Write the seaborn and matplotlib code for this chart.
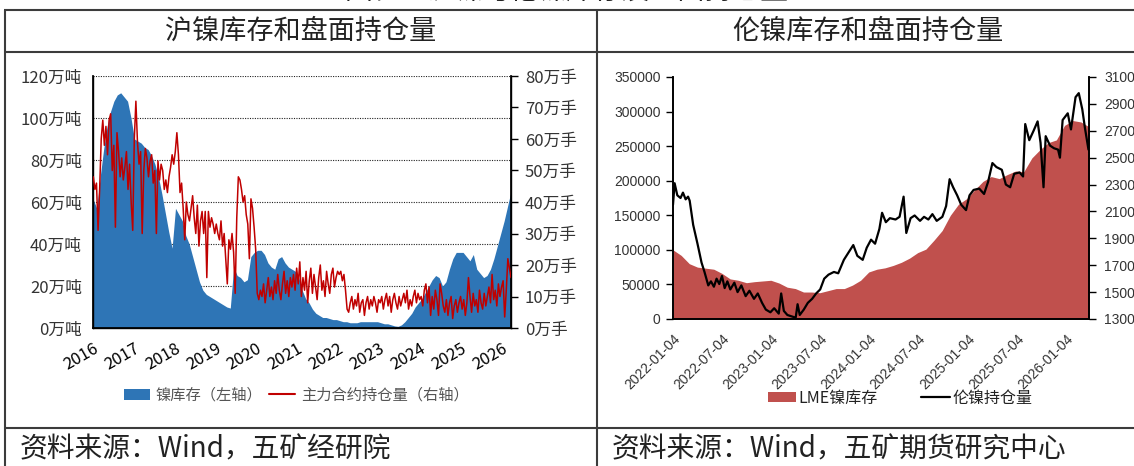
import numpy as np
import pandas as pd
import matplotlib
matplotlib.use('Agg')
import matplotlib.pyplot as plt
import seaborn as sns
from matplotlib.lines import Line2D
from matplotlib.patches import Patch

sns.set_theme(style='white')
plt.rcParams['font.family'] = ['Noto Sans CJK SC', 'DejaVu Sans']
plt.rcParams['axes.unicode_minus'] = False

# ---------------- data: left chart (SHFE) ----------------
shfe_years = [str(y) for y in range(2016, 2027)]
# SHFE nickel inventory, 万吨 (about monthly, 2016-01 .. 2026-03)
shfe_stock = [
    61, 57, 72, 85, 96, 103, 108, 111, 112, 110, 108, 100,
    90, 89, 88, 86, 85, 82, 78, 72, 64, 55, 46, 38,
    57, 54, 51, 44, 40, 34, 28, 22, 18, 16, 15, 14,
    13, 12, 11, 10, 9.5, 29, 25, 24, 22, 23, 34, 36,
    37, 37, 35, 31, 29, 28, 33, 34, 31, 29, 28, 27,
    24, 18, 14, 12, 9, 7, 6, 5, 5, 4.5, 4, 4,
    3.5, 3, 3, 2.5, 2.5, 2.5, 3, 3, 3, 3, 3, 3,
    2.5, 2, 2, 1.5, 1, 0.8, 1.5, 3, 5, 7, 10, 12,
    14, 17, 20, 23, 25, 24, 20, 22, 28, 33, 36, 36,
    36, 34, 32, 35, 28, 26, 24, 25, 28, 33, 39, 45,
    51, 58, 65,
]
# SHFE main contract open interest, 万手 (about every two weeks)
shfe_oi = [
    48, 44, 46, 31, 44, 60, 66, 58, 64, 55, 66, 68, 50, 58, 32, 62, 56, 48, 54, 47, 51, 56, 44, 52, 40, 31,
    60, 72, 59, 52, 56, 30, 50, 57, 54, 48, 53, 55, 46, 50, 30, 53, 47, 52, 50, 44, 47, 43, 48, 51, 55, 52,
    56, 62, 55, 43, 46, 38, 28, 40, 36, 34, 38, 42, 35, 30, 39, 26, 34, 37, 30, 37, 16, 37, 32, 35, 33, 30,
    33, 30, 28, 34, 26, 30, 22, 14, 28, 25, 30, 24, 11, 35, 48, 47, 44, 40, 42, 36, 33, 22, 41, 38, 32, 25,
    11, 9, 12, 10, 14, 8, 12, 16, 10, 13, 9, 15, 11, 17, 12, 9, 14, 18, 11, 15, 10, 16, 13, 17, 12, 19,
    14, 21, 10, 16, 12, 18, 8, 15, 19, 11, 17, 13, 9, 16, 20, 12, 15, 10, 18, 14, 11, 17, 19, 13, 16, 18,
    17, 18, 15, 17, 12, 6, 5, 8, 10, 6, 9, 7, 11, 5, 8, 9, 4, 8, 10, 6, 9, 7, 10, 8, 5, 9,
    8, 10, 6, 9, 11, 7, 10, 5, 9, 11, 8, 6, 10, 7, 9, 11, 8, 12, 6, 9, 7, 10, 12, 8, 11, 9,
    10, 7, 12, 14, 8, 13, 4, 10, 6, 12, 9, 4, 14, 11, 7, 5, 9, 4, 8, 10, 3, 7, 9, 5, 8, 10,
    6, 9, 4, 8, 16, 10, 5, 11, 7, 9, 5, 12, 8, 6, 11, 7, 10, 13, 8, 17, 9, 12, 7, 14, 10, 13,
    15, 3.5, 12, 22, 19, 16,
]
shfe_yticks = [0, 20, 40, 60, 80, 100, 120]
shfe_oi_ticks = [0, 10, 20, 30, 40, 50, 60, 70, 80]

# ---------------- data: right chart (LME) ----------------
lme_xticks = ['2022-01-04', '2022-07-04', '2023-01-04', '2023-07-04', '2024-01-04',
              '2024-07-04', '2025-01-04', '2025-07-04', '2026-01-04']
# LME nickel stock, tonnes (about monthly, 2022-01 .. 2026-04)
lme_stock = [
    100000, 92000, 80000, 75000, 73500, 72000, 66000, 58000, 56000, 52500, 54000, 55000,
    56000, 52000, 46000, 44000, 39000, 39000, 38000, 41000, 44000, 44000, 49000, 56000,
    68000, 72000, 74000, 77500, 82000, 88000, 96000, 101000, 114000, 128000, 150000, 166000,
    174000, 187000, 199000, 206000, 203000, 209000, 214000, 213000, 233000, 245000, 255000, 259000,
    280000, 287000, 285000, 278000,
]
lme_oi_dates = [
    '2022-01-04', '2022-01-10', '2022-01-20', '2022-02-01', '2022-02-10', '2022-02-20', '2022-03-01',
    '2022-03-07', '2022-03-20', '2022-04-05', '2022-04-20', '2022-05-01', '2022-05-15', '2022-05-25',
    '2022-06-05', '2022-06-15', '2022-06-25', '2022-07-05', '2022-07-15', '2022-07-25', '2022-08-05',
    '2022-08-20', '2022-09-01', '2022-09-15', '2022-10-01', '2022-10-15', '2022-11-01', '2022-11-15',
    '2022-12-01', '2022-12-15', '2023-01-01', '2023-01-15', '2023-02-01', '2023-02-10', '2023-02-20',
    '2023-03-05', '2023-03-20', '2023-04-05', '2023-04-12', '2023-04-20', '2023-05-05', '2023-05-20',
    '2023-06-05', '2023-06-20', '2023-07-05', '2023-07-20', '2023-08-05', '2023-08-25', '2023-09-10',
    '2023-10-01', '2023-10-20', '2023-11-05', '2023-11-20', '2023-12-10', '2023-12-25', '2024-01-10',
    '2024-01-25', '2024-02-10', '2024-02-20', '2024-03-05', '2024-03-20', '2024-04-10', '2024-04-25',
    '2024-05-10', '2024-05-20', '2024-06-05', '2024-06-20', '2024-07-10', '2024-07-25', '2024-08-10',
    '2024-08-25', '2024-09-10', '2024-10-01', '2024-10-15', '2024-10-28', '2024-11-10', '2024-11-25',
    '2024-12-10', '2024-12-28', '2025-01-10', '2025-01-25', '2025-02-15', '2025-03-05', '2025-03-20',
    '2025-04-05', '2025-04-20', '2025-05-10', '2025-05-25', '2025-06-10', '2025-06-25', '2025-07-15',
    '2025-07-28', '2025-08-05', '2025-08-20', '2025-09-05', '2025-09-20', '2025-10-01', '2025-10-12',
    '2025-10-20', '2025-11-05', '2025-11-20', '2025-12-05', '2025-12-12', '2025-12-22', '2026-01-10',
    '2026-01-22', '2026-02-08', '2026-02-20', '2026-03-05', '2026-03-15', '2026-03-28',
]
lme_oi = [
    215000, 231000, 222000, 220000, 224000, 219000, 221000,
    218000, 200000, 186000, 172000, 165000, 155000, 158000,
    154000, 160000, 156000, 162000, 153000, 158000, 152000,
    157000, 150000, 155000, 147000, 151000, 145000, 149000,
    142000, 137000, 135000, 138000, 134000, 149000, 136000,
    133000, 132000, 131000, 141000, 133000, 137000, 142000,
    145000, 149000, 152000, 160000, 163000, 165000, 164000,
    174000, 180000, 185000, 177000, 174000, 183000, 189000,
    186000, 197000, 209000, 202000, 205000, 204000, 206000,
    221000, 194000, 205000, 207000, 203000, 206000, 204000,
    208000, 203000, 206000, 214000, 234000, 228000, 222000,
    215000, 211000, 222000, 226000, 227000, 223000, 232000,
    246000, 243000, 241000, 230000, 228000, 238000, 239000,
    236000, 275000, 263000, 270000, 277000, 261000, 228000,
    266000, 259000, 257000, 256000, 250000, 278000, 283000,
    271000, 295000, 298000, 286000, 272000, 256000,
]
lme_yticks = [0, 50000, 100000, 150000, 200000, 250000, 300000, 350000]
lme_oi_ticks = [130000, 150000, 170000, 190000, 210000, 230000, 250000, 270000, 290000, 310000]

# ---------------- figure ----------------
W, H = 1134, 466
fig = plt.figure(figsize=(W / 100, H / 100), dpi=100)
fig.patch.set_facecolor('white')

def fx(px):
    return px / W

def fy(py):
    return 1 - py / H

frame = dict(color='#3c3c3c', lw=1.5, transform=fig.transFigure, solid_capstyle='butt')
fig.add_artist(Line2D([fx(4), 1.0], [fy(9.5)] * 2, **frame))
fig.add_artist(Line2D([fx(4), 1.0], [fy(52)] * 2, **frame))
fig.add_artist(Line2D([fx(4), 1.0], [fy(428)] * 2, **frame))
fig.add_artist(Line2D([fx(4.5)] * 2, [0, fy(9.5)], **frame))
fig.add_artist(Line2D([fx(597)] * 2, [0, fy(9.5)], **frame))

fig.text(fx(567), fy(7), '图表：沪镍与伦镍库存及盘面持仓量', ha='center', va='bottom',
         fontsize=20, color='#222222')
fig.text(fx(301), fy(31), '沪镍库存和盘面持仓量', ha='center', va='center', fontsize=19.5,
         color='#222222')
fig.text(fx(868), fy(31), '伦镍库存和盘面持仓量', ha='center', va='center', fontsize=19.5,
         color='#222222')
fig.text(fx(20), fy(449), '资料来源：Wind，五矿经研院', ha='left', va='center', fontsize=20,
         color='#222222')
fig.text(fx(612), fy(449), '资料来源：Wind，五矿期货研究中心', ha='left', va='center',
         fontsize=20, color='#222222')

# ---- left chart ----
stock_dates = pd.date_range('2016-01-04', '2026-03-25', periods=len(shfe_stock))
oi_dates = pd.date_range('2016-01-04', '2026-03-25', periods=len(shfe_oi))

ax1 = fig.add_axes([fx(93), fy(328), fx(418), 252 / H])
ax1.fill_between(stock_dates, shfe_stock, 0, color='#2E75B6', lw=0, zorder=2)
ax1.set_xlim(pd.Timestamp('2016-01-01'), pd.Timestamp('2026-03-25'))
ax1.set_ylim(0, 120)
ax1.set_yticks(shfe_yticks)
ax1.set_yticklabels([f'{v}万吨' for v in shfe_yticks])
ax1.yaxis.grid(True, linestyle=(0, (1, 1.2)), color='#222222', lw=0.8)
ax1.xaxis.grid(False)
ax1.set_axisbelow(True)
ax1.tick_params(axis='y', length=0, pad=8, labelsize=12, colors='#333333')
year_ticks = [pd.Timestamp(f'{y}-01-01') for y in shfe_years]
ax1.set_xticks(year_ticks)
ax1.set_xticklabels(shfe_years, rotation=30, ha='right', rotation_mode='anchor')
ax1.tick_params(axis='x', length=5, width=1, direction='out', labelsize=12, pad=4)
ax1.tick_params(axis='x', color='black', labelcolor='black')
for s in ['left', 'bottom', 'right']:
    ax1.spines[s].set_color('black')
    ax1.spines[s].set_linewidth(1)
ax1.spines['top'].set_visible(False)

ax1r = ax1.twinx()
sns.lineplot(x=oi_dates, y=shfe_oi, ax=ax1r, color='#C00000', lw=1.1, zorder=3)
ax1r.set_ylim(0, 80)
ax1r.set_yticks(shfe_oi_ticks)
ax1r.set_yticklabels([f'{v}万手' for v in shfe_oi_ticks])
ax1r.tick_params(axis='y', length=5, width=1, direction='out', pad=5, labelsize=12)
ax1r.tick_params(axis='y', color='black', labelcolor='#333333')
ax1r.spines['top'].set_visible(False)
for s in ['left', 'bottom', 'right']:
    ax1r.spines[s].set_color('black')
ax1r.set_xlabel('')
ax1r.set_ylabel('')
ax1.set_xlabel('')
ax1.set_xlim(pd.Timestamp('2016-01-01'), pd.Timestamp('2026-03-25'))
ax1r.grid(False)

leg1 = fig.legend(
    [Patch(facecolor='#2E75B6', edgecolor='none'), Line2D([], [], color='#C00000', lw=1.5)],
    ['镍库存（左轴）', '主力合约持仓量（右轴）'],
    loc='center', bbox_to_anchor=(fx(296), fy(395)), ncol=2, frameon=False, fontsize=11,
    handlelength=1.7, handleheight=0.7, handletextpad=0.4, columnspacing=0.4)
for t in leg1.get_texts():
    t.set_color('#555555')

# ---- right chart ----
lme_stock_dates = pd.date_range('2022-01-04', '2026-03-30', periods=len(lme_stock))
lme_oi_dt = pd.to_datetime(lme_oi_dates)
num_font = 'Liberation Sans'

ax2 = fig.add_axes([fx(673), fy(319), fx(416), 242 / H])
ax2.fill_between(lme_stock_dates, lme_stock, 0, color='#C0504D', lw=0, zorder=2)
ax2.set_xlim(pd.Timestamp('2022-01-04'), pd.Timestamp('2026-03-30'))
ax2.set_ylim(0, 350000)
ax2.set_yticks(lme_yticks)
ax2.set_yticklabels([str(v) for v in lme_yticks])
xt = pd.to_datetime(lme_xticks)
ax2.set_xticks(xt)
ax2.set_xticklabels(lme_xticks, rotation=45, ha='right', rotation_mode='anchor')
ax2.tick_params(axis='y', length=5, width=1, direction='out', pad=4,
                labelsize=10, labelfontfamily=num_font)
ax2.tick_params(axis='x', length=5, width=1, direction='out', pad=4,
                labelsize=10, labelfontfamily=num_font)
ax2.tick_params(axis='both', color='black', labelcolor='#333333')
ax2.grid(False)
for s in ['left', 'bottom', 'right']:
    ax2.spines[s].set_color('black')
    ax2.spines[s].set_linewidth(1.2)
ax2.spines['top'].set_visible(False)

ax2r = ax2.twinx()
sns.lineplot(x=lme_oi_dt, y=lme_oi, ax=ax2r, color='black', lw=1.6, zorder=3)
ax2r.set_ylim(130000, 310000)
ax2r.set_yticks(lme_oi_ticks)
ax2r.set_yticklabels([str(v) for v in lme_oi_ticks])
ax2r.tick_params(axis='y', length=5, width=1, direction='out', pad=6,
                 labelsize=10, labelfontfamily=num_font)
ax2r.tick_params(axis='y', color='black', labelcolor='#333333')
ax2r.spines['top'].set_visible(False)
for s in ['left', 'bottom', 'right']:
    ax2r.spines[s].set_color('black')
    ax2r.spines[s].set_linewidth(1.2)
ax2r.set_xlabel('')
ax2r.set_ylabel('')
ax2r.grid(False)
ax2.set_xlim(pd.Timestamp('2022-01-04'), pd.Timestamp('2026-03-30'))

leg2 = fig.legend(
    [Patch(facecolor='#C0504D', edgecolor='none'), Line2D([], [], color='black', lw=1.6)],
    ['LME镍库存', '伦镍持仓量'],
    loc='center', bbox_to_anchor=(fx(900), fy(398)), ncol=2, frameon=False, fontsize=11.5,
    handlelength=1.8, handleheight=0.6, handletextpad=0.15, columnspacing=2.7)
for t in leg2.get_texts():
    t.set_color('#222222')

fig.savefig('out.png', dpi=100, facecolor='white')
